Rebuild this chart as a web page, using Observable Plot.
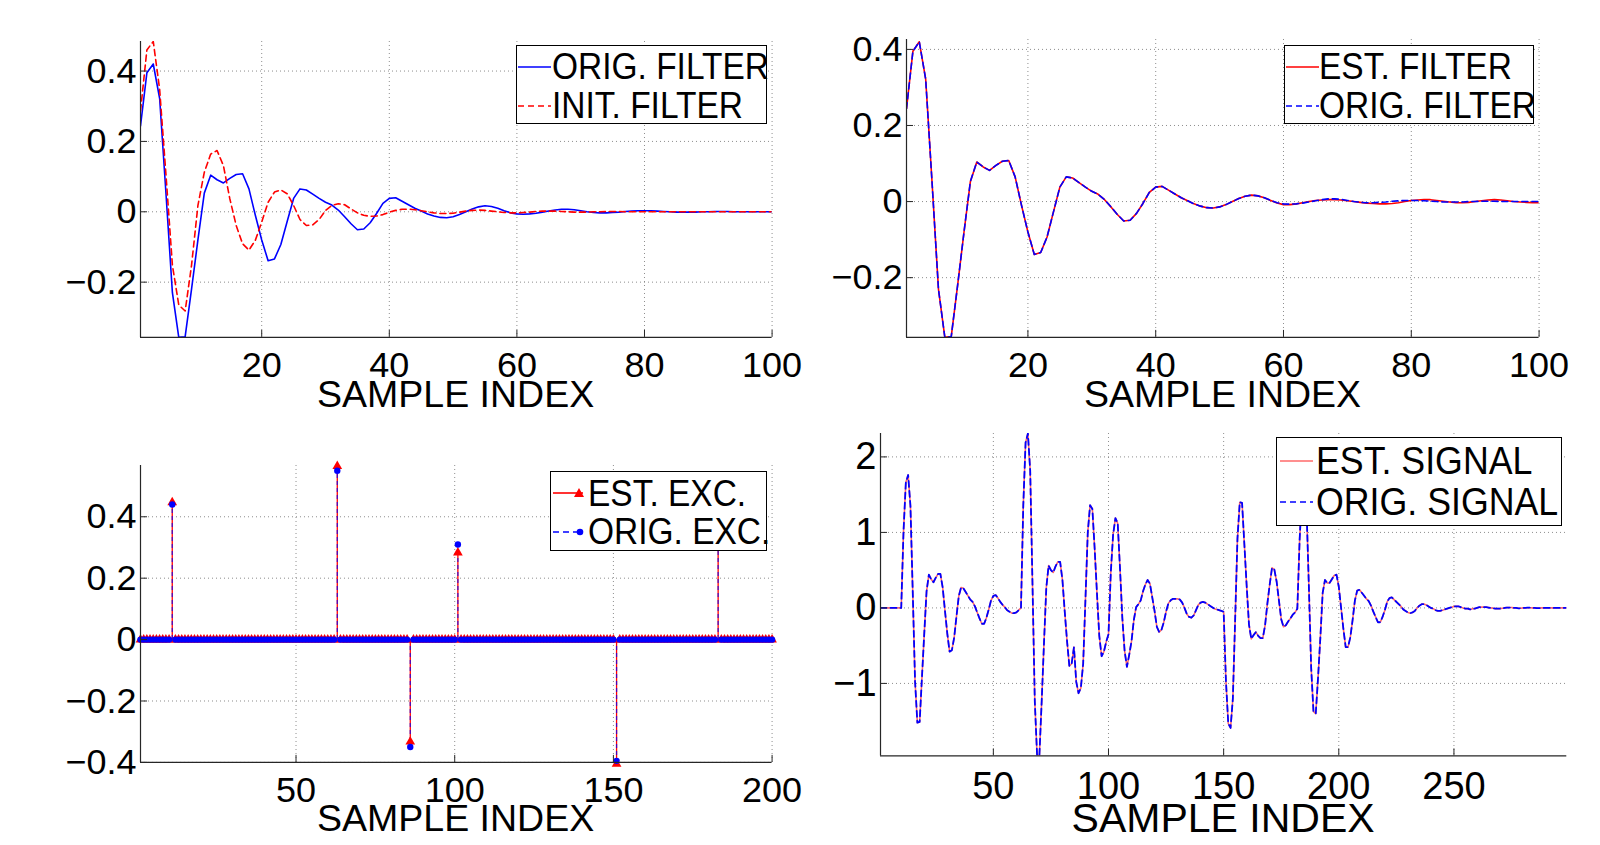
<!DOCTYPE html>
<html><head><meta charset="utf-8">
<script src="https://cdn.jsdelivr.net/npm/d3@7"></script>
<script src="https://cdn.jsdelivr.net/npm/@observablehq/plot@0.6"></script>
<style>
html,body{margin:0;padding:0;background:#fff;}
body{width:1600px;height:845px;position:relative;overflow:hidden;font-family:"Liberation Sans",Arial,Helvetica,sans-serif;color:#000;}
.xlabel{position:absolute;white-space:nowrap;line-height:1;}
.legend{position:absolute;background:#fff;border:1.3px solid #000;box-sizing:border-box;}
.ltext{position:absolute;white-space:nowrap;line-height:1;transform-origin:0 0;}
.lsample{position:absolute;overflow:visible;}
</style></head><body>
<script>
// ---------- DATA ----------
const origFilter = [0.244,0.395,0.42,0.322,0.05,-0.23,-0.357,-0.355,-0.22,-0.08,
 0.053,0.104,0.091,0.082,0.095,0.106,0.108,0.065,-0.01,-0.08,
 -0.139,-0.134,-0.093,-0.027,0.038,0.065,0.062,0.05,0.038,0.027,
 0.019,0.005,-0.014,-0.034,-0.051,-0.049,-0.031,-0.005,0.024,0.038,
 0.04,0.03,0.02,0.01,0.002,-0.006,-0.012,-0.016,-0.017,-0.014,
 -0.008,0.0,0.008,0.014,0.017,0.015,0.01,0.003,-0.003,-0.006,
 -0.007,-0.006,-0.004,-0.001,0.002,0.005,0.007,0.007,0.006,0.003,
 0.0,-0.002,-0.003,-0.003,-0.002,-0.001,0.001,0.002,0.003,0.003,
 0.003,0.002,0.001,0.0,-0.001,-0.001,-0.001,-0.001,0.0,0.0,
 0.001,0.001,0.001,0.0,0.0,0.0,0.0,0.0,0.0,0.0];
const initFilter = [0.287,0.46,0.484,0.348,0.103,-0.152,-0.265,-0.282,-0.152,0.018,
 0.112,0.164,0.174,0.131,0.037,-0.039,-0.091,-0.109,-0.081,-0.029,
 0.027,0.056,0.062,0.051,0.018,-0.022,-0.039,-0.037,-0.022,0.004,
 0.018,0.023,0.020,0.008,-0.003,-0.010,-0.013,-0.012,-0.008,-0.001,
 0.004,0.007,0.0075,0.006,0.003,0.0,-0.003,-0.005,-0.005,-0.004,
 -0.001,0.002,0.004,0.005,0.004,0.002,0.0,-0.002,-0.003,-0.003,
 -0.002,-0.001,0.001,0.002,0.002,0.002,0.001,0.0,-0.001,-0.001,
 -0.001,0.0,0.0,0.001,0.001,0.001,0.0,0.0,0.0,0.0,
 0.0,0.0,0.0,0.0,0.0,0.0,0.0,0.0,0.0,0.0,
 0.0,0.0,0.0,0.0,0.0,0.0,0.0,0.0,0.0,0.0];
const estFilter = [0.244,0.395,0.42,0.322,0.05,-0.23,-0.357,-0.355,-0.22,-0.08,
 0.053,0.104,0.091,0.082,0.095,0.106,0.108,0.065,-0.01,-0.08,
 -0.139,-0.134,-0.093,-0.027,0.038,0.065,0.062,0.05,0.038,0.027,
 0.019,0.005,-0.014,-0.034,-0.051,-0.049,-0.031,-0.005,0.024,0.038,
 0.04,0.03,0.02,0.01,0.002,-0.006,-0.012,-0.016,-0.017,-0.014,
 -0.008,0.0,0.008,0.014,0.017,0.015,0.01,0.003,-0.004,-0.008,
 -0.008,-0.006,-0.003,0.0,0.003,0.004,0.005,0.005,0.004,0.002,
 0.0,-0.002,-0.004,-0.005,-0.006,-0.006,-0.005,-0.003,0.0,0.003,
 0.004,0.005,0.005,0.003,0.001,-0.001,-0.003,-0.003,-0.002,0.0,
 0.002,0.004,0.005,0.004,0.002,0.0,-0.001,-0.002,-0.003,-0.003];

const excIndex = [11, 63, 86, 101, 151, 183];
const origExcValues = [0.44, 0.55, -0.35, 0.31, -0.395, 0.37];
const estExcValues  = [0.447, 0.565, -0.333, 0.283, -0.405, 0.36];
const excLength = 200;

const origSignal = [0,0,0,0,0,0,0,0,0,0,
 1.02,1.66,1.76,1.35,0.21,-0.97,-1.52,-1.51,-0.92,-0.34,
 0.22,0.44,0.38,0.34,0.40,0.45,0.45,0.27,-0.04,-0.34,
 -0.58,-0.56,-0.39,-0.11,0.16,0.27,0.26,0.21,0.16,0.11,
 0.08,0.02,-0.06,-0.14,-0.21,-0.21,-0.13,-0.02,0.10,0.16,
 0.17,0.13,0.08,0.04,0.01,-0.03,-0.05,-0.07,-0.07,-0.06,
 -0.03,0.0,
 1.36,2.19,2.31,1.82,0.31,-1.24,-1.96,-1.95,
 -1.23,-0.46,0.27,0.56,0.50,0.47,0.55,0.61,0.61,0.37,
 -0.05,-0.44,-0.77,-0.74,-0.52,
 -0.98,-1.13,-1.06,-0.74,0.12,1.00,1.36,1.31,0.78,0.19,-0.37,-0.64,-0.58,-0.45,-0.35,
 0.47,0.97,1.19,1.12,0.52,-0.13,-0.57,-0.78,-0.62,-0.44,
 -0.16,0.01,0.05,0.10,0.22,0.31,0.37,0.32,0.14,-0.04,
 -0.25,-0.32,-0.29,-0.19,-0.05,0.06,0.10,0.12,0.12,0.12,
 0.11,0.07,0.0,-0.08,-0.12,-0.13,-0.10,-0.03,0.04,0.07,
 0.08,0.07,0.05,0.03,0.01,-0.01,-0.02,-0.03,-0.04,-0.05,
 -0.97,-1.53,-1.59,-1.20,-0.15,0.92,1.40,1.39,0.84,0.29,
 -0.22,-0.41,-0.36,-0.32,-0.37,-0.40,-0.40,-0.23,0.06,0.31,
 0.53,0.51,0.35,0.10,-0.15,-0.25,-0.23,-0.18,-0.14,-0.09,-0.06,-0.01,
 0.91,1.51,1.66,1.31,0.29,-0.79,-1.37,-1.40,
 -0.92,-0.39,0.20,0.37,0.33,0.33,0.38,0.43,0.44,0.28,
 0.0,-0.28,-0.52,-0.52,-0.39,-0.16,0.10,0.23,0.24,0.20,
 0.16,0.12,0.09,0.03,-0.05,-0.12,-0.19,-0.19,-0.12,-0.03,
 0.08,0.13,0.14,0.11,0.08,0.05,0.02,-0.02,-0.04,-0.06,
 -0.07,-0.06,-0.04,0.0,0.03,0.05,0.05,0.04,0.02,0.0,
 -0.01,-0.03,-0.04,-0.04,-0.03,-0.02,-0.01,0.0,0.01,0.02,
 0.02,0.02,0.01,0.0,-0.01,-0.01,-0.02,-0.01,-0.01,0.0,
 0.01,0.01,0.01,0.01,0.005,0.0,-0.005,-0.01,-0.01,-0.01,
 -0.005,0.0,0.005,0.005,0.005,0.0,0.0,-0.005,-0.005,0.0,
 0.0,0.003,0.003,0.0,0.0,-0.003,-0.003,0.0,0.0,0.0,
 0,0,0,0,0,0,0,0,0];
const estSignal = origSignal.slice();

const filterXTicks = [20, 40, 60, 80, 100];
const filterYTicks = [-0.2, 0, 0.2, 0.4];
const excXTicks = [50, 100, 150, 200];
const excYTicks = [-0.4, -0.2, 0, 0.2, 0.4];
const sigXTicks = [50, 100, 150, 200, 250];
const sigYTicks = [-1, 0, 1, 2];

// ---------- TABLES ----------
const filterRows = origFilter.map((v, i) => ({n: i + 1, orig: v, init: initFilter[i], est: estFilter[i]}));
const excRows = d3.range(1, excLength + 1).map(n => {
  const k = excIndex.indexOf(n);
  return {n, orig: k >= 0 ? origExcValues[k] : 0, est: k >= 0 ? estExcValues[k] : 0};
});
const sigRows = origSignal.map((v, i) => ({n: i + 1, orig: v, est: estSignal[i]}));

// ---------- HELPERS ----------
const FONT = '"Liberation Sans", Arial, Helvetica, sans-serif';
const fmtY = d => d === 0 ? "0" : (d < 0 ? "\u2212" : "") + Math.abs(d).toFixed(1);
const fmtI = d => d === 0 ? "0" : (d < 0 ? "\u2212" : "") + Math.abs(d);

function panel(cfg) {
  const ml = 130, mr = 50, mt = 12, mb = 70;
  const {left, top, fw, fh} = cfg;
  const svg = Plot.plot({
    width: ml + fw + mr, height: mt + fh + mb,
    marginLeft: ml, marginRight: mr, marginTop: mt, marginBottom: mb,
    x: {domain: cfg.xDomain, label: null},
    y: {domain: cfg.yDomain, label: null},
    style: {fontFamily: FONT, fontSize: cfg.tickFont + "px", color: "#000", background: "transparent", overflow: "visible"},
    marks: [
      Plot.gridX({ticks: cfg.xTicks, stroke: "#8c8c8c", strokeOpacity: 1, strokeWidth: 1, strokeDasharray: "1,3"}),
      Plot.gridY({ticks: cfg.yTicks, stroke: "#8c8c8c", strokeOpacity: 1, strokeWidth: 1, strokeDasharray: "1,3"}),
      ...cfg.marks,
      Plot.ruleX(cfg.xTicks, {insetTop: fh - 7, stroke: "#262626", strokeWidth: 1}),
      Plot.ruleY(cfg.yTicks, {insetRight: fw - 7, stroke: "#262626", strokeWidth: 1}),
      Plot.ruleX([cfg.xDomain[0]], {stroke: "#262626", strokeWidth: 1.2}),
      Plot.ruleY([cfg.yDomain[0]], {stroke: "#262626", strokeWidth: 1.2}),
      Plot.axisX({ticks: cfg.xTicks, tickSize: 0, tickPadding: cfg.xPad, tickFormat: fmtI, fontSize: cfg.tickFont, label: null}),
      Plot.axisY({ticks: cfg.yTicks, tickSize: 0, tickPadding: 4, tickFormat: cfg.yFmt, fontSize: cfg.tickFont, label: null})
    ]
  });
  svg.style.position = "absolute";
  svg.style.left = (left - ml) + "px";
  svg.style.top = (top - mt) + "px";
  document.body.appendChild(svg);

  const xl = document.createElement("div");
  xl.className = "xlabel";
  xl.textContent = cfg.xLabel;
  xl.style.fontSize = cfg.labelFont + "px";
  xl.style.left = (left + fw / 2) + "px";
  xl.style.top = (cfg.labelBaseline - 0.8465 * cfg.labelFont) + "px";
  xl.style.transform = "translateX(-50%)";
  document.body.appendChild(xl);
}

function sampleSvg(kind, color, marker) {
  const w = 40, h = 14, y = 7;
  let s = `<svg width="${w}" height="${h}" xmlns="http://www.w3.org/2000/svg">`;
  const dash = kind === "dash" ? ' stroke-dasharray="6,4"' : "";
  s += `<line x1="0" y1="${y}" x2="${marker ? 30 : 33}" y2="${y}" stroke="${color}" stroke-width="1.6"${dash}/>`;
  if (marker === "tri") s += `<path d="M26,${y-5} L31,${y+4} L21,${y+4} Z" fill="${color}"/>`;
  if (marker === "dot") s += `<circle cx="27" cy="${y}" r="3.3" fill="${color}"/>`;
  s += "</svg>";
  return s;
}

function legend(cfg) {
  const box = document.createElement("div");
  box.className = "legend";
  box.style.left = cfg.left + "px"; box.style.top = cfg.top + "px";
  box.style.width = cfg.width + "px"; box.style.height = cfg.height + "px";
  document.body.appendChild(box);
  cfg.rows.forEach(r => {
    const t = document.createElement("div");
    t.className = "ltext";
    t.textContent = r.label;
    t.style.fontSize = cfg.font + "px";
    t.style.left = cfg.textX + "px";
    t.style.top = (r.baseline - 0.8465 * cfg.font) + "px";
    t.style.transform = `scaleX(${cfg.sx})`;
    document.body.appendChild(t);
    const s = document.createElement("div");
    s.className = "lsample";
    s.innerHTML = sampleSvg(r.kind, r.color, r.marker);
    s.style.left = cfg.sampleX + "px";
    s.style.top = (r.baseline - 0.358 * cfg.font - 7) + "px";
    document.body.appendChild(s);
  });
}

const BLUE = "#0000ff", RED = "#ff0000", PINK = "#ff6a6a";

// ---------- PANEL 1 ----------
panel({
  left: 139.8, top: 40.8, fw: 631.6, fh: 295.9,
  xDomain: [1, 100], yDomain: [-0.357, 0.484],
  xTicks: filterXTicks, yTicks: filterYTicks, yFmt: fmtY,
  tickFont: 36, xPad: 14, xLabel: "SAMPLE INDEX", labelFont: 37.5, labelBaseline: 408.2,
  marks: [
    Plot.line(filterRows, {x: "n", y: "orig", stroke: BLUE, strokeWidth: 1.6, clip: true}),
    Plot.line(filterRows, {x: "n", y: "init", stroke: RED, strokeWidth: 1.6, strokeDasharray: "6,4", clip: true})
  ]
});
legend({left: 516.3, top: 44.9, width: 251, height: 79.6, font: 36, sx: 0.93, textX: 552, sampleX: 518,
  rows: [
    {label: "ORIG. FILTER", baseline: 79.6, kind: "solid", color: BLUE},
    {label: "INIT. FILTER", baseline: 118.4, kind: "dash", color: RED}
  ]});

// ---------- PANEL 2 ----------
panel({
  left: 906.2, top: 38.8, fw: 632.6, fh: 297.9,
  xDomain: [1, 100], yDomain: [-0.357, 0.426],
  xTicks: filterXTicks, yTicks: filterYTicks, yFmt: fmtY,
  tickFont: 36, xPad: 14, xLabel: "SAMPLE INDEX", labelFont: 37.5, labelBaseline: 408.2,
  marks: [
    Plot.line(filterRows, {x: "n", y: "est", stroke: RED, strokeWidth: 1.6, clip: true}),
    Plot.line(filterRows, {x: "n", y: "orig", stroke: BLUE, strokeWidth: 1.6, strokeDasharray: "6,4", clip: true})
  ]
});
legend({left: 1283.7, top: 44.9, width: 250, height: 79.6, font: 36, sx: 0.93, textX: 1319.4, sampleX: 1286,
  rows: [
    {label: "EST. FILTER", baseline: 79.6, kind: "solid", color: RED},
    {label: "ORIG. FILTER", baseline: 118.4, kind: "dash", color: BLUE}
  ]});

// ---------- PANEL 3 ----------
panel({
  left: 139.8, top: 465.3, fw: 631.6, fh: 296.9,
  xDomain: [1, 200], yDomain: [-0.4, 0.567],
  xTicks: excXTicks, yTicks: excYTicks, yFmt: fmtY,
  tickFont: 36, xPad: 14, xLabel: "SAMPLE INDEX", labelFont: 37.5, labelBaseline: 832,
  marks: [
    Plot.ruleX(excRows.filter(d => d.est !== 0), {x: "n", y1: 0, y2: "est", stroke: RED, strokeWidth: 1.3}),
    Plot.ruleX(excRows.filter(d => d.orig !== 0), {x: "n", y1: 0, y2: "orig", stroke: BLUE, strokeWidth: 1.3, strokeDasharray: "4,3", strokeOpacity: 0.7}),
    Plot.dot(excRows, {x: "n", y: "est", symbol: "triangle", r: 3.6, fill: RED, stroke: "none"}),
    Plot.dot(excRows, {x: "n", y: "orig", r: 3.2, fill: BLUE, stroke: "none"})
  ]
});
legend({left: 550, top: 471.4, width: 217.3, height: 79.6, font: 36, sx: 0.93, textX: 587.8, sampleX: 553,
  rows: [
    {label: "EST. EXC.", baseline: 506.1, kind: "solid", color: RED, marker: "tri"},
    {label: "ORIG. EXC.", baseline: 544.9, kind: "dash", color: BLUE, marker: "dot"}
  ]});

// ---------- PANEL 4 ----------
panel({
  left: 880, top: 432.7, fw: 686.3, fh: 322.4,
  xDomain: [1, 299], yDomain: [-1.96, 2.31],
  xTicks: sigXTicks, yTicks: sigYTicks, yFmt: fmtI,
  tickFont: 38, xPad: 16, xLabel: "SAMPLE INDEX", labelFont: 41, labelBaseline: 833,
  marks: [
    Plot.line(sigRows, {x: "n", y: "est", stroke: PINK, strokeWidth: 1.6, clip: true}),
    Plot.line(sigRows, {x: "n", y: "orig", stroke: BLUE, strokeWidth: 1.8, strokeDasharray: "6,4", clip: true})
  ]
});
legend({left: 1275.5, top: 436.7, width: 286.7, height: 89.8, font: 38, sx: 0.94, textX: 1316.3, sampleX: 1279.6,
  rows: [
    {label: "EST. SIGNAL", baseline: 474.5, kind: "solid", color: PINK},
    {label: "ORIG. SIGNAL", baseline: 515.3, kind: "dash", color: BLUE}
  ]});
</script>
</body></html>
